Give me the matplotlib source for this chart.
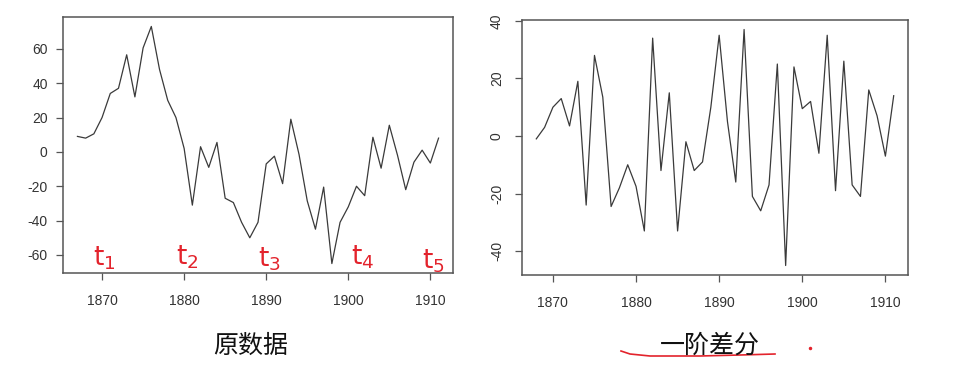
import matplotlib
matplotlib.use("Agg")
from matplotlib import pyplot as plt
import numpy as np

plt.rcParams["axes.unicode_minus"] = False

# original series, 1867-1911
years = list(range(1867, 1912))
raw_values = [9, 8, 10.5, 20, 34, 37, 56.5, 32, 60.5, 73,
              48, 30, 20, 2, -31, 3, -9, 5.5, -27, -29.5,
              -41, -50, -41, -7, -2.5, -18.5, 19, -1.5, -28.5, -45,
              -20.5, -65, -41, -32, -20, -25.5, 8.5, -9.5, 15.5, -2,
              -22, -6, 1, -6.5, 8]

# first difference, 1868-1911
diff_years = list(range(1868, 1912))
diff_values = [-1, 3, 10, 13, 3.5, 19, -24, 28, 13.5, -24.5,
               -18, -10, -17.5, -33, 34, -12, 15, -33, -2, -12,
               -9, 10, 35, 5, -16, 37, -21, -26, -17, 25,
               -45, 24, 9.5, 12, -6, 35, -19, 26, -17, -21,
               16, 7, -7, 14]

x_ticks = [1870, 1880, 1890, 1900, 1910]
left_yticks = [-60, -40, -20, 0, 20, 40, 60]
right_yticks = [-40, -20, 0, 20, 40]
marks = ["t$_1$", "t$_2$", "t$_3$", "t$_4$", "t$_5$"]
captions = ["原数据", "一阶差分"]

W, H = 956, 376
RED = "#e3232c"


def px(x, y):
    return x / W, 1 - y / H


def style_axes(ax):
    for s in ax.spines.values():
        s.set_color("#555555")
        s.set_linewidth(1.1)
    ax.tick_params(direction="out", length=5, width=0.9, color="#555555",
                   labelsize=10, labelcolor="#333333", pad=4)
    ax.tick_params(axis="x", pad=10)
    for lab in ax.get_xticklabels() + ax.get_yticklabels():
        lab.set_family("Liberation Sans")


fig = plt.figure(figsize=(W / 100, H / 100), dpi=100)

# left: raw data
ax1 = fig.add_axes([63 / W, 1 - 273 / H, 390 / W, 256 / H])
ax1.plot(years, raw_values, color="#3a3a3a", linewidth=0.9)
ax1.set_xlim(1865.24, 1912.76)
ax1.set_ylim(-70.5, 78.5)
ax1.set_xticks(x_ticks)
ax1.set_yticks(left_yticks)
style_axes(ax1)
ax1.tick_params(axis="y", pad=6)

# right: first difference
ax2 = fig.add_axes([522 / W, 1 - 275 / H, 386 / W, 255 / H])
ax2.plot(diff_years, diff_values, color="#3a3a3a", linewidth=0.9)
ax2.set_xlim(1866.28, 1912.72)
ax2.set_ylim(-48.3, 40.3)
ax2.set_xticks(x_ticks)
ax2.set_yticks(right_yticks)
style_axes(ax2)
ax2.tick_params(axis="y", pad=8)
for lab in ax2.get_yticklabels():
    lab.set_rotation(90)
    lab.set_va("center")

# red hand-written marks on the left panel
mark_pos = [(104, 258), (187, 257), (269, 259), (363, 257), (433, 261)]
for m, (x, y) in zip(marks, mark_pos):
    fig.text(*px(x, y), m, color=RED, fontsize=19, ha="center", va="center",
             family=["DejaVu Sans"])

# captions
fig.text(*px(251, 346), captions[0], fontsize=18, ha="center", va="center",
         family=["Noto Sans CJK SC", "DejaVu Sans"], color="#111111")
fig.text(*px(710, 346), captions[1], fontsize=18, ha="center", va="center",
         family=["Noto Sans CJK SC", "DejaVu Sans"], color="#111111")

# red underline and dot
ux = np.array([621, 630, 650, 700, 740, 775])
uy = np.array([351, 354, 356, 356, 355, 354])
fig.add_artist(plt.Line2D(ux / W, 1 - uy / H, color=RED, linewidth=1.2))
fig.add_artist(plt.Line2D([810 / W], [1 - 348 / H], color=RED, marker="o",
                          markersize=1.5, linestyle="none"))

fig.savefig("out.png", dpi=100)
